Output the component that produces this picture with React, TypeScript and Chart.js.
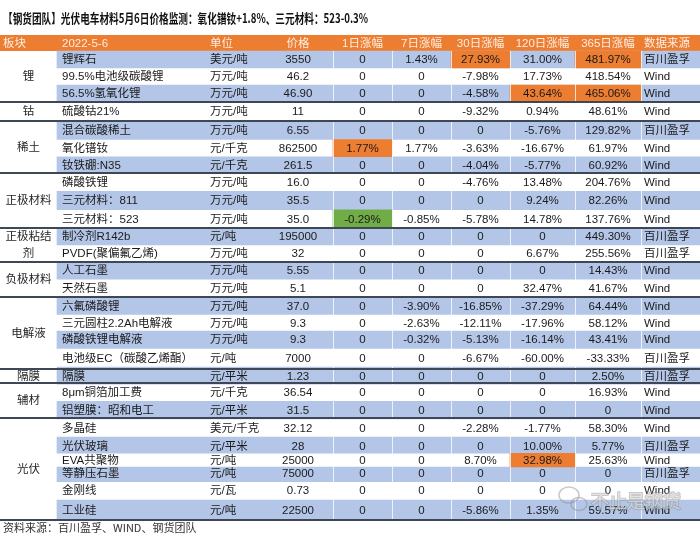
import React, { useEffect, useRef } from 'react';
import { Chart, registerables } from 'chart.js';

Chart.register(...registerables);

// ---------------- data ----------------
const title = '【钢货团队】光伏电车材料5月6日价格监测：氧化镨钕+1.8%、三元材料：523-0.3%';
const headers = ['板块', '2022-5-6', '单位', '价格', '1日涨幅', '7日涨幅', '30日涨幅', '120日涨幅', '365日涨幅', '数据来源'];
const groupLabels = ['锂', '钴', '稀土', '正极材料', '正极粘结|剂', '负极材料', '电解液', '隔膜', '辅材', '光伏'];
const groupSizes = [3, 1, 3, 3, 2, 2, 4, 1, 2, 6];

const products = [
  '锂辉石', '99.5%电池级碳酸锂', '56.5%氢氧化锂', '硫酸钴21%', '混合碳酸稀土', '氧化镨钕', '钕铁硼:N35',
  '磷酸铁锂', '三元材料：811', '三元材料：523', '制冷剂R142b', 'PVDF(聚偏氟乙烯)', '人工石墨', '天然石墨',
  '六氟磷酸锂', '三元圆柱2.2Ah电解液', '磷酸铁锂电解液', '电池级EC（碳酸乙烯酯）', '隔膜', '8μm铜箔加工费',
  '铝塑膜：昭和电工', '多晶硅', '光伏玻璃', 'EVA共聚物', '等静压石墨', '金刚线', '工业硅',
];
const units = [
  '美元/吨', '万元/吨', '万元/吨', '万元/吨', '万元/吨', '元/千克', '元/千克',
  '万元/吨', '万元/吨', '万元/吨', '元/吨', '万元/吨', '万元/吨', '万元/吨',
  '万元/吨', '万元/吨', '万元/吨', '元/吨', '元/平米', '元/千克',
  '元/平米', '美元/千克', '元/平米', '元/吨', '元/吨', '元/瓦', '元/吨',
];
const prices = [
  '3550', '46.2', '46.90', '11', '6.55', '862500', '261.5',
  '16.0', '35.5', '35.0', '195000', '32', '5.55', '5.1',
  '37.0', '9.3', '9.3', '7000', '1.23', '36.54',
  '31.5', '32.12', '28', '25000', '75000', '0.73', '22500',
];
const change1d = [0, 0, 0, 0, 0, 1.77, 0, 0, 0, -0.29, 0, 0, 0, 0, 0, 0, 0, 0, 0, 0, 0, 0, 0, 0, 0, 0, 0];
const change7d = [1.43, 0, 0, 0, 0, 1.77, 0, 0, 0, -0.85, 0, 0, 0, 0, -3.9, -2.63, -0.32, 0, 0, 0, 0, 0, 0, 0, 0, 0, 0];
const change30d = [27.93, -7.98, -4.58, -9.32, 0, -3.63, -4.04, -4.76, 0, -5.78, 0, 0, 0, 0, -16.85, -12.11, -5.13, -6.67, 0, 0, 0, -2.28, 0, 8.7, 0, 0, -5.86];
const change120d = [31.0, 17.73, 43.64, 0.94, -5.76, -16.67, -5.77, 13.48, 9.24, 14.78, 0, 6.67, 0, 32.47, -37.29, -17.96, -16.14, -60.0, 0, 0, 0, -1.77, 10.0, 32.98, 0, 0, 1.35];
const change365d = [481.97, 418.54, 465.06, 48.61, 129.82, 61.97, 60.92, 204.76, 82.26, 137.76, 449.3, 255.56, 14.43, 41.67, 64.44, 58.12, 43.41, -33.33, 2.5, 16.93, 0, 58.3, 5.77, 25.63, 0, 0, 59.57];
const sources = [
  '百川盈孚', 'Wind', 'Wind', 'Wind', '百川盈孚', 'Wind', 'Wind',
  'Wind', 'Wind', 'Wind', '百川盈孚', '百川盈孚', 'Wind', 'Wind',
  'Wind', 'Wind', 'Wind', '百川盈孚', '百川盈孚', 'Wind',
  'Wind', 'Wind', '百川盈孚', 'Wind', '百川盈孚', 'Wind', 'Wind',
];
// highlighted cells: [row, column, kind]
const highlightRows = [0, 0, 2, 2, 5, 9, 23];
const highlightCols = [6, 8, 7, 8, 4, 4, 7];
const highlightKinds = ['up', 'up', 'up', 'up', 'up', 'down', 'up'];
const footnote = '资料来源：百川盈孚、WIND、钢货团队';
const watermark = '不止是钢货';

// ---------------- layout / style ----------------
const W = 700;
const H = 536;
const COL_EDGES = [0, 57, 205, 263, 333, 392, 451, 510, 575, 641, 700];
const ROW_EDGES = [51, 68, 85, 102, 121, 140, 157, 173, 191, 210, 228, 245, 262, 279, 297, 315, 331, 347, 369, 383, 402, 418, 438, 454, 467, 480, 500, 520];
const HEADER_TOP = 35;
const TITLE_Y = 18;
const FOOT_Y = 528;
const BLUE = '#b4c6e7';
const ORANGE = '#ed7d31';
const GREEN = '#70ad47';
const SEP = '#3d4756';
const FONT = '"Liberation Sans", "Noto Sans CJK SC", sans-serif';
const CJK = '"Noto Sans CJK SC", "Liberation Sans", sans-serif';
const BODY_SIZE = 11.5;

const rowCenters = ROW_EDGES.slice(0, -1).map((e, i) => (e + ROW_EDGES[i + 1]) / 2);
const pct = (v: number) => (v === 0 ? '0' : v.toFixed(2) + '%');

const tablePlugin = {
  id: 'tablePlugin',
  beforeDatasetsDraw(chart: any) {
    const { ctx, scales } = chart;
    const xs = scales.x;
    const ys = scales.y;
    ctx.save();
    // title
    ctx.fillStyle = '#111';
    ctx.font = 'bold 13px ' + CJK;
    ctx.textBaseline = 'middle';
    ctx.textAlign = 'left';
    const tw = ctx.measureText(title).width;
    ctx.save();
    ctx.translate(xs.getPixelForValue(3), ys.getPixelForValue(TITLE_Y));
    ctx.scale(365 / tw, 1);
    ctx.fillText(title, 0, 0);
    ctx.restore();
    // header band
    const hy0 = ys.getPixelForValue(HEADER_TOP);
    const hy1 = ys.getPixelForValue(ROW_EDGES[0]);
    ctx.fillStyle = ORANGE;
    ctx.fillRect(xs.getPixelForValue(0), hy0, xs.getPixelForValue(W) - xs.getPixelForValue(0), hy1 - hy0);
    ctx.restore();
  },
  afterDatasetsDraw(chart: any) {
    const { ctx, scales } = chart;
    const xs = scales.x;
    const ys = scales.y;
    const px = (v: number) => xs.getPixelForValue(v);
    const py = (v: number) => ys.getPixelForValue(v);
    ctx.save();
    // light column dividers
    ctx.strokeStyle = 'rgba(255,255,255,0.75)';
    ctx.lineWidth = 1;
    for (let c = 4; c <= 9; c++) {
      const x = Math.round(px(COL_EDGES[c])) + 0.5;
      ctx.beginPath();
      ctx.moveTo(x, py(ROW_EDGES[0]));
      ctx.lineTo(x, py(ROW_EDGES[ROW_EDGES.length - 1]));
      ctx.stroke();
    }
    // header text
    ctx.textBaseline = 'middle';
    ctx.fillStyle = '#fdeee3';
    ctx.font = BODY_SIZE + 'px ' + FONT;
    const hy = (py(HEADER_TOP) + py(ROW_EDGES[0])) / 2 + 0.5;
    headers.forEach((h, c) => {
      if (c === 0) { ctx.textAlign = 'left'; ctx.fillText(h, px(COL_EDGES[0] + 3), hy); }
      else if (c === 1 || c === 2) { ctx.textAlign = 'left'; ctx.fillText(h, px(COL_EDGES[c] + 5), hy); }
      else if (c === 9) { ctx.textAlign = 'left'; ctx.fillText(h, px(COL_EDGES[c] + 3), hy); }
      else { ctx.textAlign = 'center'; ctx.fillText(h, (px(COL_EDGES[c]) + px(COL_EDGES[c + 1])) / 2, hy); }
    });
    // body text
    ctx.fillStyle = '#1a1a1a';
    const center = (c: number) => (px(COL_EDGES[c]) + px(COL_EDGES[c + 1])) / 2;
    rowCenters.forEach((rc, i) => {
      const y = py(rc) + 0.5;
      ctx.textAlign = 'left';
      ctx.fillText(products[i], px(COL_EDGES[1] + 5), y);
      ctx.fillText(units[i], px(COL_EDGES[2] + 5), y);
      ctx.fillText(sources[i], px(COL_EDGES[9] + 3), y);
      ctx.textAlign = 'center';
      ctx.fillText(prices[i], center(3), y);
      [change1d, change7d, change30d, change120d, change365d].forEach((arr, k) => {
        ctx.fillText(pct(arr[i]), center(4 + k), y);
      });
    });
    // group labels + separators
    let start = 0;
    groupSizes.forEach((n, g) => {
      const top = py(ROW_EDGES[start]);
      const bot = py(ROW_EDGES[start + n]);
      const lines = groupLabels[g].split('|');
      const mid = (top + bot) / 2;
      ctx.fillStyle = '#262626';
      ctx.textAlign = 'center';
      lines.forEach((ln, k) => {
        ctx.fillText(ln, center(0), mid + (k - (lines.length - 1) / 2) * 17 + 0.5);
      });
      ctx.strokeStyle = SEP;
      ctx.lineWidth = 2;
      ctx.beginPath();
      ctx.moveTo(px(0), bot);
      ctx.lineTo(px(W), bot);
      ctx.stroke();
      start += n;
    });
    // footnote
    ctx.fillStyle = '#333';
    ctx.font = '11px ' + CJK;
    ctx.textAlign = 'left';
    ctx.fillText(footnote, px(3), py(FOOT_Y));
    // watermark
    ctx.globalAlpha = 0.45;
    ctx.font = '18px ' + CJK;
    ctx.lineWidth = 2;
    ctx.strokeStyle = '#8a8a8a';
    ctx.fillStyle = '#ffffff';
    ctx.strokeText(watermark, px(591), py(501));
    ctx.fillText(watermark, px(591), py(501));
    ctx.lineWidth = 1.5;
    ctx.beginPath();
    ctx.ellipse(px(569), py(495), 10, 8, 0, 0, Math.PI * 2);
    ctx.stroke();
    ctx.beginPath();
    ctx.ellipse(px(579), py(504), 8, 6.5, 0, 0, Math.PI * 2);
    ctx.stroke();
    ctx.restore();
  },
};

const barStyle = {
  barThickness: 'flex', categoryPercentage: 1, barPercentage: 1, borderWidth: 0, stack: 'cells',
};

export default function App() {
  const ref = useRef<HTMLCanvasElement | null>(null);
  useEffect(() => {
    if (!ref.current) return;
    const stripe = rowCenters.map((y, i) => ({ y, x: i % 2 === 0 ? [COL_EDGES[1], COL_EDGES[10]] : null }));
    const hlCols = Array.from(new Set(highlightCols));
    const hlSets = hlCols.map((c) => {
      const idx = rowCenters.map((_, i) => highlightRows.findIndex((r, j) => r === i && highlightCols[j] === c));
      return {
        label: 'hl' + c,
        order: 0,
        data: rowCenters.map((y, i) => ({ y, x: idx[i] >= 0 ? [COL_EDGES[c], COL_EDGES[c + 1]] : null })),
        backgroundColor: idx.map((k) => (k >= 0 && highlightKinds[k] === 'down' ? GREEN : ORANGE)),
        ...barStyle,
      };
    });
    const chart = new Chart(ref.current, {
      type: 'bar',
      data: {
        datasets: [
          { label: 'stripe', order: 1, data: stripe, backgroundColor: BLUE, ...barStyle },
          ...hlSets,
        ] as any,
      },
      options: {
        indexAxis: 'y',
        animation: false,
        responsive: false,
        devicePixelRatio: 1,
        layout: { padding: 0 },
        plugins: { legend: { display: false }, tooltip: { enabled: false } },
        scales: {
          x: { type: 'linear', min: 0, max: W, display: false, stacked: false, offset: false },
          y: { type: 'linear', min: 0, max: H, reverse: true, display: false, offset: false, grid: { offset: false } },
        },
      } as any,
      plugins: [tablePlugin],
    });
    return () => chart.destroy();
  }, []);
  return (
    <div style={{ position: 'absolute', left: 0, top: 0, width: W, height: H, background: '#fff' }}>
      <canvas ref={ref} width={W} height={H} style={{ display: 'block' }} />
    </div>
  );
}
